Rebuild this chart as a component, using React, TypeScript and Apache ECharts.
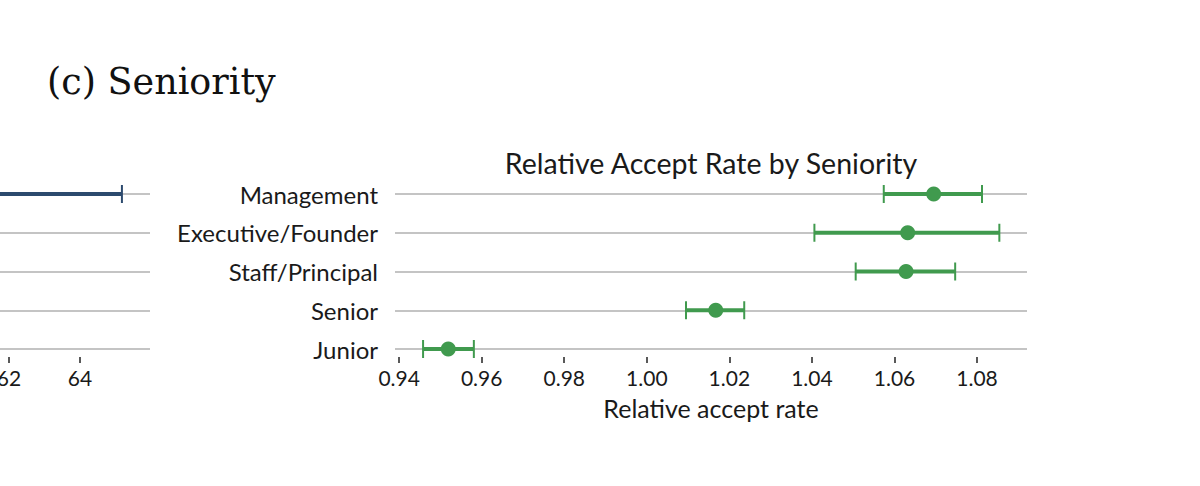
import React, { useEffect, useRef } from "react";
import * as echarts from "echarts";

const categories = ["Junior", "Senior", "Staff/Principal", "Executive/Founder", "Management"];
const estimate = [0.9519, 1.0167, 1.0628, 1.0632, 1.0695];
const lower = [0.9458, 1.0095, 1.0506, 1.0406, 1.0574];
const upper = [0.9581, 1.0236, 1.0747, 1.0854, 1.0812];
const xTicks = [0.94, 0.96, 0.98, 1.0, 1.02, 1.04, 1.06, 1.08];

// partial neighbouring panel (cut off at the left edge)
const leftPanelLower = [58.0];
const leftPanelUpper = [65.18];
const leftPanelRow = [4];
const leftTicks = [62, 64];

const GREEN = "#409a4e";
const NAVY = "#2c4a6e";
const GRID_GRAY = "#c4c4c4";
const FONT = "Lato";

function errorBarRenderer(color: string, showLowCap: boolean) {
  return (params: any, api: any) => {
    const lo = api.coord([api.value(0), api.value(2)]);
    const hi = api.coord([api.value(1), api.value(2)]);
    const h = 9;
    const children: any[] = [
      {
        type: "line",
        shape: { x1: lo[0], y1: lo[1], x2: hi[0], y2: hi[1] },
        style: { stroke: color, lineWidth: 4 },
      },
      {
        type: "line",
        shape: { x1: hi[0], y1: hi[1] - h, x2: hi[0], y2: hi[1] + h },
        style: { stroke: color, lineWidth: 2 },
      },
    ];
    if (showLowCap) {
      children.push({
        type: "line",
        shape: { x1: lo[0], y1: lo[1] - h, x2: lo[0], y2: lo[1] + h },
        style: { stroke: color, lineWidth: 2 },
      });
    }
    return { type: "group", children };
  };
}

export default function App() {
  const ref = useRef<HTMLDivElement>(null);
  useEffect(() => {
    if (!ref.current) return;
    const chart = echarts.init(ref.current, null, { renderer: "svg" });
    const errData = categories.map((_, i) => [lower[i], upper[i], i]);
    const ptData = categories.map((_, i) => [estimate[i], i]);
    const leftData = leftPanelRow.map((r, i) => [leftPanelLower[i], leftPanelUpper[i], r]);

    chart.setOption({
      animation: false,
      backgroundColor: "#ffffff",
      textStyle: { fontFamily: FONT },
      graphic: [
        {
          type: "text",
          left: 47,
          top: 63,
          style: {
            text: "(c) Seniority",
            fontFamily: "DejaVu Serif",
            fontSize: 36.5,
            fill: "#111111",
          },
        },
        {
          type: "text",
          x: 711,
          y: 163,
          style: {
            text: "Relative Accept Rate by Seniority",
            fontFamily: FONT,
            fontSize: 28.5,
            fill: "#1a1a1a",
            align: "center",
            verticalAlign: "middle",
          },
        },
      ],
      grid: [
        { left: 395, right: 173, top: 194, bottom: 137, outerBoundsMode: "none" },
        { left: 0, width: 150, top: 194, bottom: 137, outerBoundsMode: "none" },
      ],
      xAxis: [
        {
          gridIndex: 0,
          type: "value",
          min: 0.939,
          max: 1.0921,
          offset: 8,
          splitLine: { show: false },
          axisLine: { show: false },
          axisTick: {
            show: true,
            length: 6,
            customValues: xTicks,
            lineStyle: { color: "#222", width: 1.5 },
          },
          axisLabel: {
            customValues: xTicks,
            formatter: (v: number) => v.toFixed(2),
            fontFamily: FONT,
            fontSize: 21,
            color: "#1a1a1a",
            margin: 10,
          },
          name: "Relative accept rate",
          nameLocation: "middle",
          nameGap: 38,
          nameTextStyle: { fontFamily: FONT, fontSize: 25, color: "#1a1a1a" },
        },
        {
          gridIndex: 1,
          type: "value",
          min: 61.75,
          max: 65.97,
          offset: 8,
          splitLine: { show: false },
          axisLine: { show: false },
          axisTick: {
            show: true,
            length: 6,
            customValues: leftTicks,
            lineStyle: { color: "#222", width: 1.5 },
          },
          axisLabel: {
            customValues: leftTicks,
            fontFamily: FONT,
            fontSize: 21,
            color: "#1a1a1a",
            margin: 10,
          },
        },
      ],
      yAxis: [
        {
          gridIndex: 0,
          type: "category",
          data: categories,
          boundaryGap: false,
          axisLine: { show: false },
          axisTick: { show: false },
          axisLabel: { fontFamily: FONT, fontSize: 24, color: "#1a1a1a", margin: 17 },
          splitLine: { show: true, lineStyle: { color: GRID_GRAY, width: 2 } },
        },
        {
          gridIndex: 1,
          type: "category",
          data: categories,
          boundaryGap: false,
          axisLine: { show: false },
          axisTick: { show: false },
          axisLabel: { show: false },
          splitLine: { show: true, lineStyle: { color: GRID_GRAY, width: 2 } },
        },
      ],
      series: [
        {
          type: "custom",
          xAxisIndex: 0,
          yAxisIndex: 0,
          renderItem: errorBarRenderer(GREEN, true),
          encode: { x: [0, 1], y: 2 },
          data: errData,
          z: 3,
        },
        {
          type: "scatter",
          xAxisIndex: 0,
          yAxisIndex: 0,
          data: ptData,
          symbol: "circle",
          symbolSize: 15,
          itemStyle: { color: GREEN, opacity: 1 },
          z: 4,
        },
        {
          type: "custom",
          xAxisIndex: 1,
          yAxisIndex: 1,
          renderItem: errorBarRenderer(NAVY, false),
          encode: { x: [0, 1], y: 2 },
          data: leftData,
          clip: false,
          z: 3,
        },
      ],
    });
    return () => chart.dispose();
  }, []);
  return (
    <div
      ref={ref}
      style={{ position: "fixed", left: 0, top: 0, width: 1200, height: 486 }}
    />
  );
}
